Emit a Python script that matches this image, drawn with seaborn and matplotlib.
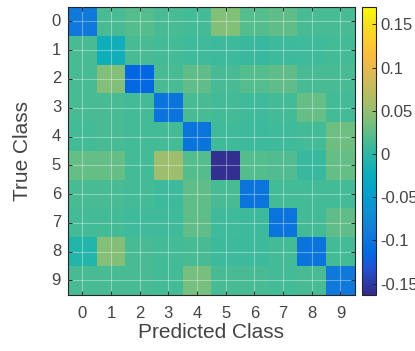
import matplotlib
matplotlib.use("Agg")
import matplotlib.pyplot as plt
from matplotlib.colors import LinearSegmentedColormap
import seaborn as sns
import pandas as pd

classes = ["0", "1", "2", "3", "4", "5", "6", "7", "8", "9"]

# difference matrix, rows = true class, cols = predicted class
row_0 = [-0.095, 0.015, 0.020, 0.015, 0.012, 0.040, 0.020, 0.025, 0.015, 0.015]
row_1 = [0.015, -0.020, 0.015, 0.012, 0.010, 0.008, 0.005, 0.008, 0.010, 0.012]
row_2 = [0.015, 0.040, -0.115, 0.015, 0.025, 0.015, 0.020, 0.025, 0.015, 0.015]
row_3 = [0.015, 0.015, 0.012, -0.100, 0.015, 0.012, 0.010, 0.012, 0.028, 0.012]
row_4 = [0.012, 0.015, 0.012, 0.012, -0.100, 0.010, 0.008, 0.010, 0.012, 0.032]
row_5 = [0.028, 0.028, 0.012, 0.055, 0.020, -0.158, 0.020, 0.018, 0.005, 0.028]
row_6 = [0.015, 0.015, 0.012, 0.008, 0.025, 0.015, -0.100, 0.012, 0.012, 0.012]
row_7 = [0.012, 0.012, 0.010, 0.010, 0.025, 0.010, 0.008, -0.100, 0.012, 0.025]
row_8 = [-0.005, 0.042, 0.015, 0.012, 0.015, 0.008, 0.008, 0.012, -0.100, 0.012]
row_9 = [0.015, 0.015, 0.015, 0.012, 0.035, 0.015, 0.015, 0.012, 0.015, -0.095]

cbar_ticks = [-0.15, -0.1, -0.05, 0, 0.05, 0.1, 0.15]
cbar_labels = ["-0.15", "-0.1", "-0.05", "0", "0.05", "0.1", "0.15"]

# approximate MATLAB parula
parula_pts = [
    (0.2081, 0.1663, 0.5292), (0.1253, 0.3242, 0.8303), (0.0060, 0.4086, 0.8828),
    (0.0723, 0.4887, 0.8467), (0.0641, 0.5570, 0.8240), (0.0265, 0.6137, 0.8135),
    (0.0384, 0.6743, 0.7436), (0.1453, 0.7098, 0.6646), (0.3022, 0.7376, 0.5712),
    (0.4871, 0.7491, 0.4840), (0.6473, 0.7456, 0.4188), (0.8185, 0.7327, 0.3498),
    (0.9739, 0.7314, 0.2666), (0.9955, 0.7861, 0.1967), (0.9626, 0.8705, 0.1309),
    (0.9763, 0.9831, 0.0538),
]
parula_pos = [0, 6, 9, 14, 18, 21, 26, 30, 34, 38, 42, 47, 52, 55, 59, 63]
parula = LinearSegmentedColormap.from_list(
    "parula", [(p / 63, c) for p, c in zip(parula_pos, parula_pts)])

df = pd.DataFrame([row_0, row_1, row_2, row_3, row_4, row_5, row_6, row_7, row_8, row_9],
                  index=classes, columns=classes)

plt.rcParams["font.family"] = ["Liberation Sans", "DejaVu Sans"]
text_color = "#444444"

fig = plt.figure(figsize=(4.15, 3.51), dpi=100)
ax = fig.add_axes([0.164, 0.160, 0.691, 0.820])
cax = fig.add_axes([0.872, 0.160, 0.034, 0.820])

sns.heatmap(df, ax=ax, cmap=parula, vmin=-0.163, vmax=0.17, cbar=False,
            square=False, linewidths=0)

# matlab-style grid on top of the image, box on
ax.grid(True, color="white", alpha=0.35, linewidth=0.8)
ax.set_axisbelow(False)
for s in ax.spines.values():
    s.set_visible(True)
    s.set_color("#262626")
    s.set_linewidth(0.8)
ax.tick_params(direction="in", length=3, width=0.7, colors="#262626",
               labelcolor=text_color, labelsize=12, top=True, right=True)
ax.tick_params(axis="x", pad=8)
ax.tick_params(axis="y", pad=5)
ax.set_yticklabels(classes, rotation=0)
ax.set_xticklabels(classes, rotation=0)
ax.set_xlabel("Predicted Class", fontsize=15, color=text_color)
ax.set_ylabel("True Class", fontsize=15, color=text_color)
ax.xaxis.set_label_coords(0.5, -0.098)
ax.yaxis.set_label_coords(-0.125, 0.5)

cbar = fig.colorbar(ax.collections[0], cax=cax, ticks=cbar_ticks)
cbar.set_ticklabels(cbar_labels)
cbar.outline.set_edgecolor("#262626")
cbar.outline.set_linewidth(0.8)
cax.tick_params(direction="in", length=3, width=0.7, colors="#262626",
                labelcolor=text_color, labelsize=12, pad=3)

fig.savefig("out.png", dpi=100)
